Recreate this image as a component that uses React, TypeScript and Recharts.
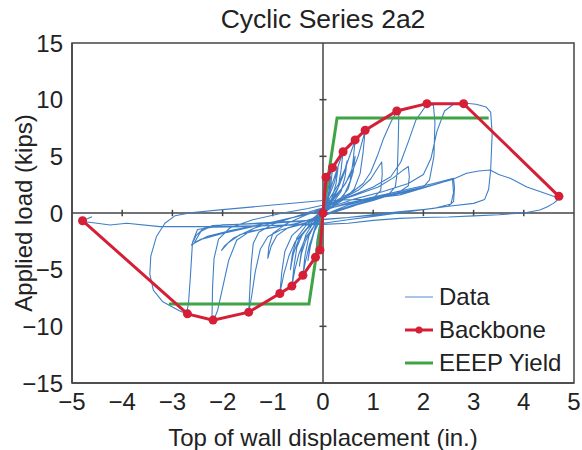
import { LineChart, Line, XAxis, YAxis, ReferenceLine, ReferenceArea, Legend } from 'recharts'

type Pt = [number, number]

// hysteresis data, cycle by cycle (in., kips)
const cycleSmall1: Pt[] = [[0, 0], [0.03, 1.6], [0.06, 3.1], [0.04, 1.9], [0.01, 0.4], [-0.02, -0.8], [-0.06, -3.2], [-0.04, -2.0], [-0.01, -0.4], [0.01, 0.3],
  [0.03, 1.4], [0.06, 2.8], [0.04, 1.6], [0.0, 0.2], [-0.03, -1.2], [-0.06, -2.9], [-0.04, -1.7], [0.0, -0.1]]
const cycleSmall2: Pt[] = [[0.04, 1.5], [0.1, 2.8], [0.19, 4.0], [0.16, 2.6], [0.1, 1.1], [0.02, 0.2], [-0.04, -0.9], [-0.1, -2.5], [-0.15, -3.9], [-0.12, -2.4], [-0.06, -0.9], [0.0, 0.2],
  [0.06, 1.3], [0.15, 3.2], [0.12, 2.0], [0.05, 0.6], [-0.02, -0.4], [-0.07, -1.6], [-0.12, -3.2], [-0.09, -1.8], [-0.03, -0.4], [0.02, 0.5]]
const cycle04: Pt[] = [[0.1, 1.5], [0.2, 2.8], [0.3, 4.1], [0.4, 5.4], [0.36, 3.8], [0.3, 2.2], [0.18, 1.0], [0.05, 0.2], [-0.05, -0.6], [-0.15, -1.4], [-0.27, -2.8], [-0.35, -4.3], [-0.4, -5.5], [-0.36, -3.8], [-0.28, -2.0], [-0.15, -0.9], [-0.04, -0.1], [0.04, 0.6],
  [0.12, 1.5], [0.22, 2.6], [0.3, 4.0], [0.26, 2.6], [0.17, 1.2], [0.05, 0.3], [-0.06, -0.7], [-0.17, -1.6], [-0.25, -2.9], [-0.3, -4.2], [-0.26, -2.8], [-0.16, -1.3], [-0.05, -0.3], [0.03, 0.5]]
const cycle06: Pt[] = [[0.15, 1.4], [0.3, 2.5], [0.45, 4.0], [0.56, 5.4], [0.64, 6.4], [0.6, 4.6], [0.54, 2.8], [0.42, 1.6], [0.25, 0.8], [0.08, 0.2], [-0.05, -0.5], [-0.2, -1.3], [-0.35, -2.2], [-0.48, -3.6], [-0.56, -5.0], [-0.62, -6.5], [-0.58, -4.8], [-0.52, -3.0], [-0.4, -1.8], [-0.22, -0.8], [-0.06, 0.0], [0.05, 0.6],
  [0.18, 1.3], [0.32, 2.4], [0.42, 3.5], [0.48, 4.6], [0.44, 3.2], [0.36, 1.9], [0.2, 0.9], [0.05, 0.2], [-0.08, -0.6], [-0.22, -1.4], [-0.35, -2.5], [-0.43, -3.6], [-0.47, -4.7], [-0.43, -3.3], [-0.34, -1.9], [-0.18, -0.8], [-0.03, 0.0], [0.06, 0.6]]
const cycle08: Pt[] = [[0.2, 1.3], [0.4, 2.3], [0.58, 3.6], [0.7, 5.0], [0.78, 6.3], [0.84, 7.3], [0.8, 5.4], [0.74, 3.5], [0.62, 2.1], [0.42, 1.2], [0.2, 0.6], [0.02, 0.0], [-0.15, -0.8], [-0.35, -1.5], [-0.55, -2.5], [-0.68, -3.8], [-0.78, -5.4], [-0.86, -7.1], [-0.82, -5.2], [-0.76, -3.4], [-0.62, -2.0], [-0.4, -1.1], [-0.15, -0.3], [0.05, 0.5],
  [0.25, 1.4], [0.45, 2.6], [0.57, 3.8], [0.64, 5.0], [0.6, 3.6], [0.5, 2.1], [0.3, 1.0], [0.08, 0.3], [-0.1, -0.5], [-0.3, -1.3], [-0.48, -2.3], [-0.59, -3.6], [-0.65, -5.0], [-0.61, -3.6], [-0.52, -2.2], [-0.34, -1.1], [-0.1, -0.2], [0.05, 0.5]]
const cycle15: Pt[] = [[0.3, 1.2], [0.6, 1.9], [0.8, 2.6], [0.95, 3.6], [1.08, 5.0], [1.2, 6.5], [1.35, 8.0], [1.47, 9.0], [1.51, 8.6], [1.5, 6.5], [1.48, 3.6], [1.44, 2.3], [1.32, 1.7], [1.0, 1.2], [0.6, 0.7], [0.2, 0.1], [-0.1, -0.5], [-0.5, -1.1], [-0.85, -1.5], [-1.1, -2.1], [-1.25, -3.2], [-1.35, -5.2], [-1.42, -7.3], [-1.48, -8.8], [-1.46, -7.0], [-1.43, -4.5], [-1.39, -2.7], [-1.28, -1.7], [-1.0, -1.0], [-0.6, -0.4], [-0.2, 0.2], [0.1, 0.6],
  [0.4, 1.3], [0.7, 2.0], [0.95, 3.0], [1.08, 3.9], [1.17, 4.5], [1.18, 3.4], [1.15, 2.0], [1.0, 1.3], [0.6, 0.6], [0.1, -0.1], [-0.3, -0.8], [-0.7, -1.3], [-0.92, -2.0], [-1.03, -2.9], [-1.1, -4.0], [-1.08, -3.0], [-1.0, -1.8], [-0.75, -1.0], [-0.35, -0.2], [0.1, 0.6]]
const cycle21: Pt[] = [[0.5, 1.4], [1.0, 2.3], [1.35, 3.2], [1.55, 4.5], [1.7, 6.3], [1.85, 8.2], [2.07, 9.6], [2.2, 9.5], [2.23, 8.0], [2.21, 5.0], [2.12, 2.9], [2.0, 2.3], [1.6, 1.9], [1.0, 1.3], [0.5, 0.7], [0.0, -0.2], [-0.5, -0.9], [-1.0, -1.3], [-1.45, -1.6], [-1.72, -2.4], [-1.88, -4.2], [-2.0, -6.6], [-2.1, -8.6], [-2.19, -9.6], [-2.21, -9.0], [-2.2, -6.5], [-2.17, -4.0], [-2.08, -2.3], [-1.85, -1.3], [-1.4, -0.6], [-0.8, 0.0], [-0.3, 0.4], [0.1, 0.8],
  [0.6, 1.5], [1.1, 2.3], [1.4, 3.1], [1.6, 3.8], [1.7, 4.1], [1.72, 3.2], [1.7, 2.4], [1.5, 1.8], [1.0, 1.1], [0.4, 0.4], [-0.1, -0.4], [-0.6, -1.0], [-1.2, -1.4], [-1.65, -1.9], [-1.88, -2.6], [-2.02, -3.3], [-1.96, -2.9], [-1.78, -2.2], [-1.35, -1.3], [-0.6, -0.4], [0.0, 0.3]]
const cycle33: Pt[] = [[0.6, 1.2], [1.2, 1.9], [1.7, 2.6], [2.0, 3.4], [2.15, 4.8], [2.27, 7.2], [2.42, 9.0], [2.6, 9.6], [2.8, 9.7], [3.05, 9.6], [3.25, 9.35], [3.34, 8.9], [3.37, 7.0], [3.34, 3.8], [3.3, 2.1], [3.22, 1.2], [3.0, 0.85], [2.5, 0.6], [2.0, 0.3], [1.5, 0.0], [1.0, -0.3], [0.5, -0.6], [0.0, -0.9], [-0.5, -1.0], [-1.0, -1.1], [-1.6, -1.2], [-2.2, -1.25], [-2.5, -1.45], [-2.6, -2.6], [-2.64, -5.5], [-2.68, -8.0], [-2.72, -8.9], [-2.85, -8.65], [-3.0, -8.3], [-3.2, -7.8], [-3.38, -6.8], [-3.45, -5.4], [-3.43, -3.8], [-3.32, -2.1], [-3.15, -0.9], [-2.95, -0.25], [-2.6, 0.05], [-2.0, 0.3], [-1.5, 0.5], [-1.0, 0.7], [-0.5, 0.9], [0.0, 1.1],
  [0.8, 1.2], [1.6, 2.0], [2.2, 2.6], [2.6, 3.06], [2.62, 2.2], [2.6, 1.0], [2.5, 0.6], [2.0, 0.3], [1.0, -0.2], [0.0, -0.6], [-1.0, -0.9], [-2.0, -1.05], [-2.38, -1.35], [-2.53, -2.0], [-2.62, -2.85], [-2.52, -2.55], [-2.3, -2.05], [-1.8, -1.5], [-1.2, -1.0], [-0.5, -0.3], [0.0, 0.3],
  [0.8, 1.1], [1.6, 1.8], [2.2, 2.5], [2.58, 2.95], [2.6, 1.8], [2.55, 0.8], [2.2, 0.4], [1.5, 0.1], [0.5, -0.4], [-0.5, -0.7], [-1.5, -0.95], [-2.2, -1.1], [-2.43, -1.6], [-2.56, -2.6], [-2.45, -2.35], [-2.0, -1.8], [-1.4, -1.2], [-0.7, -0.5], [0.0, 0.2]]
const cycle47: Pt[] = [[0.5, 0.9], [1.0, 1.3], [1.53, 1.6], [2.0, 2.2], [2.6, 3.0], [2.86, 3.5], [3.1, 3.7], [3.33, 3.8], [3.5, 3.4], [3.73, 3.06], [4.06, 2.3], [4.32, 1.9], [4.62, 1.44], [4.66, 1.1], [4.59, 0.85], [4.45, 0.5], [4.32, 0.26], [4.0, 0.0], [3.5, -0.15], [3.0, -0.25], [2.5, -0.35], [2.0, -0.4], [1.53, -0.47], [1.0, -0.65], [0.5, -0.9], [0.0, -1.0], [-0.5, -1.05], [-1.0, -1.1], [-1.6, -1.15], [-2.2, -1.2], [-2.59, -1.2], [-3.25, -1.2], [-3.91, -0.91], [-4.24, -1.06], [-4.5, -0.9], [-4.74, -0.77], [-4.79, -0.68], [-4.6, -0.33]]

const dataCycles = [cycleSmall1, cycleSmall2, cycle04, cycle06, cycle08, cycle15, cycle21, cycle33, cycle47]

const backboneX = [-4.79, -2.7, -2.19, -1.48, -0.86, -0.62, -0.4, -0.15, -0.06, 0, 0.06, 0.19, 0.4, 0.64, 0.84, 1.47, 2.07, 2.8, 4.7]
const backboneY = [-0.68, -8.9, -9.45, -8.75, -7.1, -6.45, -5.5, -3.9, -3.27, 0, 3.15, 4.0, 5.4, 6.45, 7.3, 9.0, 9.65, 9.65, 1.47]

const eeepX = [-3.07, -0.28, 0.28, 3.3]
const eeepY = [-8.03, -8.03, 8.38, 8.38]

const xTicks = [-5, -4, -3, -2, -1, 0, 1, 2, 3, 4, 5]
const yTicks = [-15, -10, -5, 0, 5, 10, 15]

const dataPts = dataCycles.flat().map(([x, y]) => ({ x, y }))
const backbone = backboneX.map((x, i) => ({ x, y: backboneY[i] }))
const eeep = eeepX.map((x, i) => ({ x, y: eeepY[i] }))

const FONT = '"Liberation Sans", Arial, sans-serif'
const AXIS = '#444'
const BLUE = '#3f7fc6'
const RED = '#d41f36'
const GREEN = '#3ea445'

const fmt = (v: number) => String(v).replace('-', '\u2212')

const legendItems = [
  { label: 'Data', color: '#8db0dc', width: 1.5, dot: false },
  { label: 'Backbone', color: RED, width: 3, dot: true },
  { label: 'EEEP Yield', color: GREEN, width: 3, dot: false },
]

function LegendBox() {
  return (
    <div style={{ fontFamily: FONT, fontSize: 24, color: '#222' }}>
      {legendItems.map(it => (
        <div key={it.label} style={{ display: 'flex', alignItems: 'center', height: 33 }}>
          <svg width={30} height={12} style={{ marginRight: 5 }}>
            <line x1={1} y1={6} x2={29} y2={6} stroke={it.color} strokeWidth={it.width} />
            {it.dot && <circle cx={15} cy={6} r={3.5} fill={it.color} />}
          </svg>
          <span>{it.label}</span>
        </div>
      ))}
    </div>
  )
}

export default function App() {
  return (
    <div style={{ position: 'absolute', left: 0, top: 0, width: 582, height: 450, background: '#fff' }}>
      <div style={{ position: 'absolute', left: 72, top: 4, width: 502, textAlign: 'center', fontFamily: FONT, fontSize: 26.5, color: '#222' }}>
        Cyclic Series 2a2
      </div>
      <LineChart width={582} height={450} margin={{ top: 43, right: 8, bottom: 0, left: 0 }} style={{ fontFamily: FONT }}>
        <XAxis
          type="number"
          dataKey="x"
          domain={[-5, 5]}
          ticks={xTicks}
          tickFormatter={fmt}
          height={67}
          tickLine={false}
          tickSize={0}
          tickMargin={10}
          axisLine={{ stroke: AXIS, strokeWidth: 1.5 }}
          tick={{ fill: '#222', fontSize: 24 }}
          allowDataOverflow
          label={{ value: 'Top of wall displacement (in.)', position: 'insideBottom', offset: 4, fill: '#222', fontSize: 24 }}
        />
        <YAxis
          type="number"
          dataKey="y"
          domain={[-15, 15]}
          ticks={yTicks}
          tickFormatter={fmt}
          width={72}
          tickLine={false}
          tickSize={0}
          tickMargin={9}
          axisLine={{ stroke: AXIS, strokeWidth: 1.5 }}
          tick={{ fill: '#222', fontSize: 24 }}
          allowDataOverflow
          label={{ value: 'Applied load (kips)', angle: -90, position: 'insideLeft', offset: 23, fill: '#222', fontSize: 24, style: { textAnchor: 'middle' } }}
        />
        <ReferenceArea x1={-5} x2={5} y1={-15} y2={15} fill="none" stroke={AXIS} strokeWidth={1.5} ifOverflow="visible" />
        <ReferenceLine x={0} stroke={AXIS} strokeWidth={1.5} />
        <ReferenceLine y={0} stroke={AXIS} strokeWidth={1.5} />
        {xTicks.filter(t => t !== 0 && Math.abs(t) !== 5).map(t => (
          <ReferenceLine key={'xt' + t} segment={[{ x: t, y: -0.28 }, { x: t, y: 0.28 }]} stroke={AXIS} strokeWidth={1.5} />
        ))}
        {yTicks.filter(t => t !== 0 && Math.abs(t) !== 15).map(t => (
          <ReferenceLine key={'yt' + t} segment={[{ x: -0.07, y: t }, { x: 0.07, y: t }]} stroke={AXIS} strokeWidth={1.5} />
        ))}
        <Line data={dataPts} dataKey="y" type="linear" stroke={BLUE} strokeWidth={1.1} strokeLinejoin="round" dot={false} isAnimationActive={false} />
        <Line data={eeep} dataKey="y" type="linear" stroke={GREEN} strokeWidth={3} dot={false} isAnimationActive={false} />
        <Line data={backbone} dataKey="y" type="linear" stroke={RED} strokeWidth={3} dot={{ r: 4.5, fill: RED, stroke: RED, strokeWidth: 0 }} isAnimationActive={false} />
        <Legend layout="vertical" align="center" verticalAlign="middle" content={() => <LegendBox />}
          wrapperStyle={{ position: 'absolute', left: 404, top: 280, width: 170 }} />
      </LineChart>
    </div>
  )
}
